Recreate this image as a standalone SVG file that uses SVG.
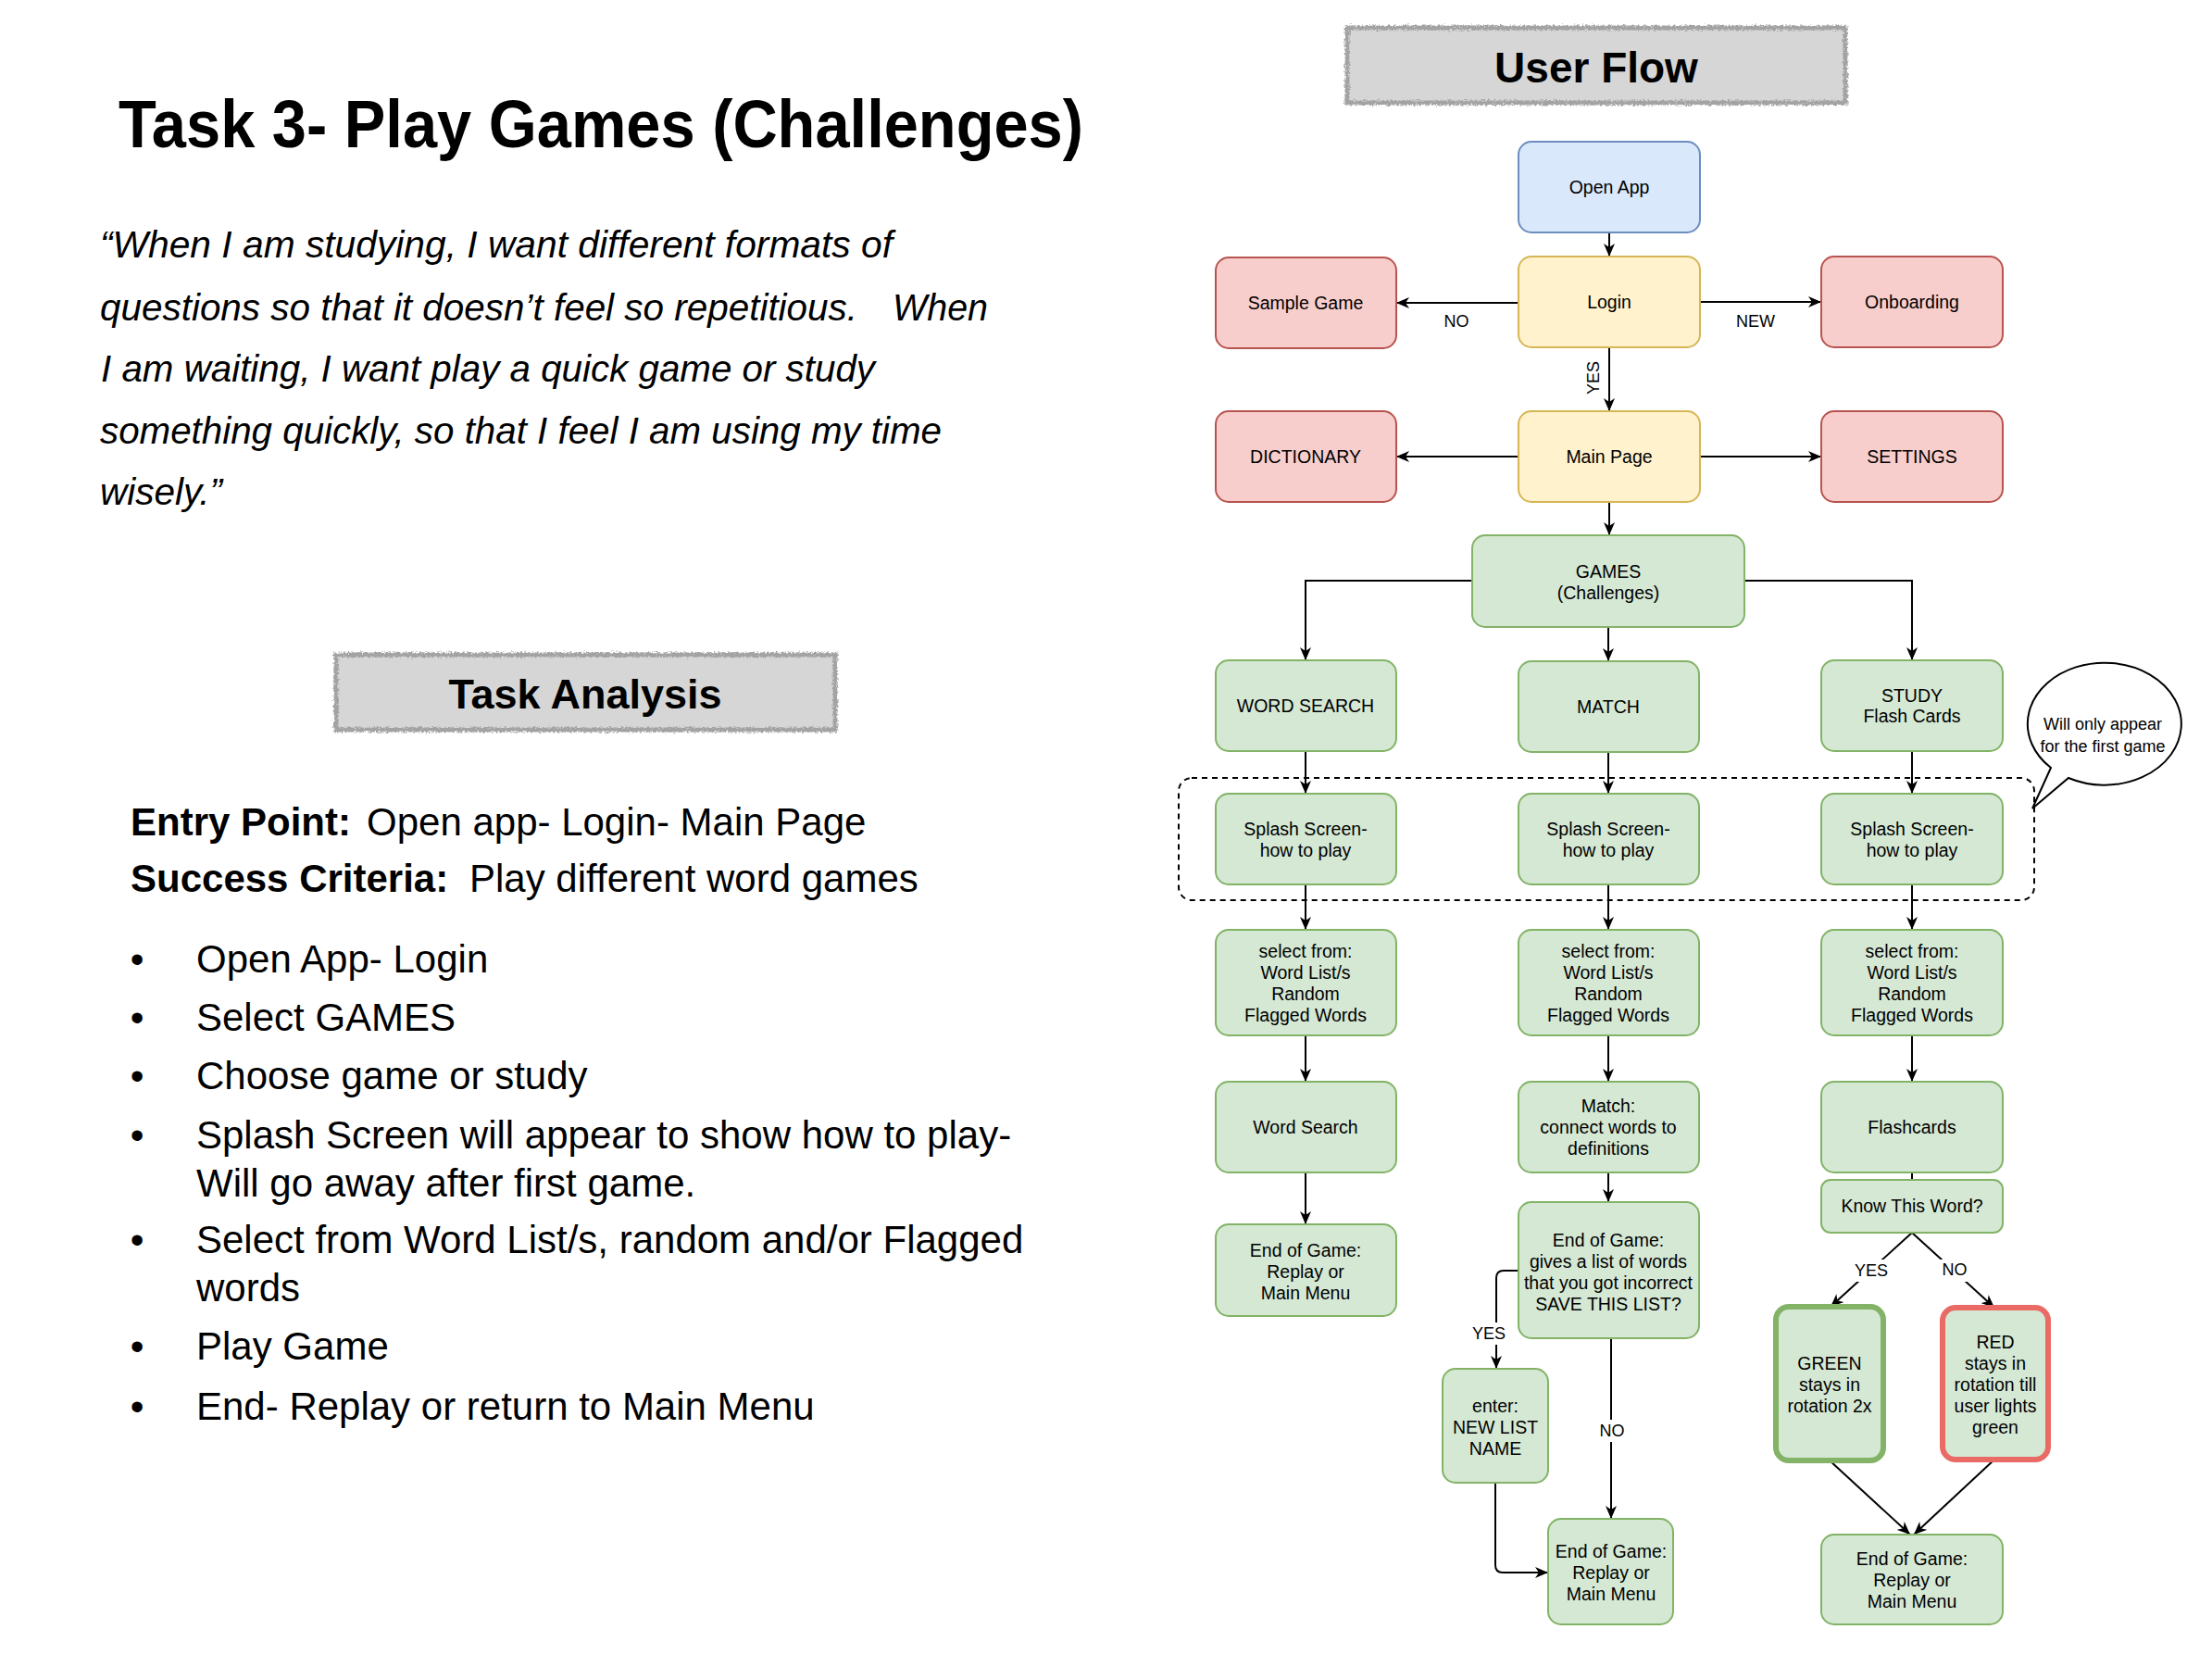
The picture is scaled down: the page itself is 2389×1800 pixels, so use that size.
<svg xmlns="http://www.w3.org/2000/svg" width="2389" height="1800" viewBox="0 0 2389 1800">
<defs>
<style>
text{font-family:"Liberation Sans",Arial,Helvetica,sans-serif;fill:#000}
.nt{font-size:19.5px;text-anchor:middle}
.lbl{font-size:18px;text-anchor:middle}
.node rect{stroke-width:2}
.blue rect{fill:#dae8fc;stroke:#6c8ebf}
.yellow rect{fill:#fff2cc;stroke:#d6b656}
.red rect{fill:#f8cecc;stroke:#b85450}
.green rect{fill:#d5e8d4;stroke:#82b366}
.gthick rect{fill:#d5e8d4;stroke:#82b366;stroke-width:6}
.rthick rect{fill:#d5e8d4;stroke:#ea6b66;stroke-width:6}
.edge{fill:none;stroke:#000;stroke-width:2}
.arr{marker-end:url(#ah)}
.body{font-size:42px}
.quote{font-size:40px;font-style:italic}
.hdr-fill{fill:#d6d6d6}
.hdr-border{fill:none;stroke:#a3a3a3;stroke-width:5}
</style>
<marker id="ah" markerUnits="userSpaceOnUse" markerWidth="14" markerHeight="12" viewBox="0 0 14 12" refX="14" refY="6" orient="auto">
<path d="M0,0 L14,6 L0,12 L4,6 Z" fill="#000"/>
</marker>
<filter id="rough" x="-5%" y="-20%" width="110%" height="140%">
<feTurbulence type="fractalNoise" baseFrequency="0.45" numOctaves="2" seed="3" result="n"/>
<feDisplacementMap in="SourceGraphic" in2="n" scale="6" xChannelSelector="R" yChannelSelector="G"/>
</filter>
</defs>
<rect width="2389" height="1800" fill="#ffffff"/>

<!-- Left side -->
<g id="title">
<text x="128" y="159" font-size="72" font-weight="bold" textLength="1042" lengthAdjust="spacingAndGlyphs">Task 3- Play Games (Challenges)</text>
</g>
<g id="quote" class="quote">
<text class="quote" x="108" y="278" textLength="856" lengthAdjust="spacingAndGlyphs">“When I am studying, I want different formats of</text>
<text class="quote" x="108" y="346" textLength="818" lengthAdjust="spacingAndGlyphs">questions so that it doesn’t feel so repetitious.</text>
<text class="quote" x="964" y="346" textLength="103" lengthAdjust="spacingAndGlyphs">When</text>
<text class="quote" x="109" y="412" textLength="836" lengthAdjust="spacingAndGlyphs">I am waiting, I want play a quick game or study</text>
<text class="quote" x="108" y="479" textLength="909" lengthAdjust="spacingAndGlyphs">something quickly, so that I feel I am using my time</text>
<text class="quote" x="108" y="545" textLength="132" lengthAdjust="spacingAndGlyphs">wisely.”</text>
</g>
<g id="task-analysis-header">
<rect class="hdr-fill" x="363" y="707" width="539" height="81"/>
<rect class="hdr-border" x="363" y="707" width="539" height="81" filter="url(#rough)"/>
<text x="632" y="765" font-size="45" font-weight="bold" text-anchor="middle">Task Analysis</text>
</g>
<g id="task-analysis-body" class="body">
<text class="body" x="141" y="902"><tspan font-weight="bold">Entry Point:</tspan><tspan x="396">Open app- Login- Main Page</tspan></text>
<text class="body" x="141" y="963"><tspan font-weight="bold">Success Criteria:</tspan><tspan x="507">Play different word games</tspan></text>
<text class="body" x="148" y="1050" text-anchor="middle">•</text>
<text class="body" x="212" y="1050">Open App- Login</text>
<text class="body" x="148" y="1113" text-anchor="middle">•</text>
<text class="body" x="212" y="1113">Select GAMES</text>
<text class="body" x="148" y="1176" text-anchor="middle">•</text>
<text class="body" x="212" y="1176">Choose game or study</text>
<text class="body" x="148" y="1240" text-anchor="middle">•</text>
<text class="body" x="212" y="1240">Splash Screen will appear to show how to play-</text>
<text class="body" x="212" y="1292">Will go away after first game.</text>
<text class="body" x="148" y="1353" text-anchor="middle">•</text>
<text class="body" x="212" y="1353">Select from Word List/s, random and/or Flagged</text>
<text class="body" x="212" y="1405">words</text>
<text class="body" x="148" y="1468" text-anchor="middle">•</text>
<text class="body" x="212" y="1468">Play Game</text>
<text class="body" x="148" y="1533" text-anchor="middle">•</text>
<text class="body" x="212" y="1533">End- Replay or return to Main Menu</text>
</g>

<!-- User flow header -->
<g id="user-flow-header">
<rect class="hdr-fill" x="1455" y="30" width="538" height="81"/>
<rect class="hdr-border" x="1455" y="30" width="538" height="81" filter="url(#rough)"/>
<text x="1724" y="89" font-size="46" font-weight="bold" text-anchor="middle">User Flow</text>
</g>

<!-- dashed container and callout -->
<g id="splash-group">
<rect x="1273" y="840" width="924" height="132" rx="14" fill="none" stroke="#000" stroke-width="2" stroke-dasharray="6 5"/>
</g>
<g id="callout">
<path d="M2215,829 A83,66 0 1 1 2234,840 L2195,873 Z" fill="#fff" stroke="#000" stroke-width="2"/>
<text class="lbl" x="2271" y="788">Will only appear</text>
<text class="lbl" x="2271" y="812">for the first game</text>
</g>

<!-- connectors -->
<g id="connectors">
<path class="edge arr" d="M1738,251 L1738,277"/>
<path class="edge arr" d="M1640,327 L1508,327"/>
<path class="edge arr" d="M1836,326 L1967,326"/>
<path class="edge arr" d="M1738,375 L1738,444"/>
<path class="edge arr" d="M1640,493 L1508,493"/>
<path class="edge arr" d="M1836,493 L1967,493"/>
<path class="edge arr" d="M1738,542 L1738,578"/>
<path class="edge arr" d="M1590,627 L1410,627 L1410,713"/>
<path class="edge arr" d="M1737,677 L1737,714"/>
<path class="edge arr" d="M1884,627 L2065,627 L2065,713"/>
<path class="edge arr" d="M1410,811 L1410,857"/>
<path class="edge arr" d="M1737,812 L1737,857"/>
<path class="edge arr" d="M2065,811 L2065,857"/>
<path class="edge arr" d="M1410,955 L1410,1004"/>
<path class="edge arr" d="M1737,955 L1737,1004"/>
<path class="edge arr" d="M2065,955 L2065,1004"/>
<path class="edge arr" d="M1410,1118 L1410,1168"/>
<path class="edge arr" d="M1737,1118 L1737,1168"/>
<path class="edge arr" d="M2065,1118 L2065,1168"/>
<path class="edge arr" d="M1410,1266 L1410,1322"/>
<path class="edge arr" d="M1737,1266 L1737,1298"/>
<path class="edge" d="M2065,1266 L2065,1274"/>
<path class="edge arr" d="M1640,1372 L1624,1372 Q1616,1372 1616,1380 L1616,1478"/>
<path class="edge arr" d="M1740,1445 L1740,1640"/>
<path class="edge arr" d="M1615,1601 L1615,1690 Q1615,1698 1623,1698 L1672,1698"/>
<path class="edge arr" d="M2065,1331 L1977,1411"/>
<path class="edge arr" d="M2065,1331 L2154,1412"/>
<path class="edge arr" d="M1976,1577 L2063,1657"/>
<path class="edge arr" d="M2154,1576 L2067,1657"/>
</g>

<!-- connector labels -->
<g id="edge-labels">
<text class="lbl" x="1573" y="353">NO</text>
<text class="lbl" x="1896" y="353">NEW</text>
<text class="lbl" x="1721" y="414" transform="rotate(-90 1721 408)">YES</text>
<rect x="1592" y="1428" width="48" height="24" fill="#fff"/>
<text class="lbl" x="1608" y="1446">YES</text>
<rect x="1726" y="1533" width="30" height="24" fill="#fff"/>
<text class="lbl" x="1741" y="1551">NO</text>
<rect x="2000" y="1360" width="44" height="24" fill="#fff"/>
<text class="lbl" x="2021" y="1378">YES</text>
<rect x="2095" y="1360" width="32" height="24" fill="#fff"/>
<text class="lbl" x="2111" y="1377">NO</text>
</g>

<!-- nodes -->
<g id="n-open-app" class="node blue"><rect x="1640" y="153" width="196" height="98" rx="14"/><text class="nt" x="1738" y="209">Open App</text></g>
<g id="n-login" class="node yellow"><rect x="1640" y="277" width="196" height="98" rx="14"/><text class="nt" x="1738" y="333">Login</text></g>
<g id="n-sample-game" class="node red"><rect x="1313" y="278" width="195" height="98" rx="14"/><text class="nt" x="1410" y="334">Sample Game</text></g>
<g id="n-onboarding" class="node red"><rect x="1967" y="277" width="196" height="98" rx="14"/><text class="nt" x="2065" y="333">Onboarding</text></g>
<g id="n-dictionary" class="node red"><rect x="1313" y="444" width="195" height="98" rx="14"/><text class="nt" x="1410" y="500">DICTIONARY</text></g>
<g id="n-main-page" class="node yellow"><rect x="1640" y="444" width="196" height="98" rx="14"/><text class="nt" x="1738" y="500">Main Page</text></g>
<g id="n-settings" class="node red"><rect x="1967" y="444" width="196" height="98" rx="14"/><text class="nt" x="2065" y="500">SETTINGS</text></g>
<g id="n-games" class="node green"><rect x="1590" y="578" width="294" height="99" rx="14"/><text class="nt" x="1737" y="624">GAMES</text><text class="nt" x="1737" y="647">(Challenges)</text></g>

<g id="n-word-search" class="node green"><rect x="1313" y="713" width="195" height="98" rx="14"/><text class="nt" x="1410" y="769">WORD SEARCH</text></g>
<g id="n-match" class="node green"><rect x="1640" y="714" width="195" height="98" rx="14"/><text class="nt" x="1737" y="770">MATCH</text></g>
<g id="n-study" class="node green"><rect x="1967" y="713" width="196" height="98" rx="14"/><text class="nt" x="2065" y="758">STUDY</text><text class="nt" x="2065" y="780">Flash Cards</text></g>

<g id="n-splash-1" class="node green"><rect x="1313" y="857" width="195" height="98" rx="14"/><text class="nt" x="1410" y="902">Splash Screen-</text><text class="nt" x="1410" y="925">how to play</text></g>
<g id="n-splash-2" class="node green"><rect x="1640" y="857" width="195" height="98" rx="14"/><text class="nt" x="1737" y="902">Splash Screen-</text><text class="nt" x="1737" y="925">how to play</text></g>
<g id="n-splash-3" class="node green"><rect x="1967" y="857" width="196" height="98" rx="14"/><text class="nt" x="2065" y="902">Splash Screen-</text><text class="nt" x="2065" y="925">how to play</text></g>

<g id="n-select-1" class="node green"><rect x="1313" y="1004" width="195" height="114" rx="14"/><text class="nt" x="1410" y="1034">select from:</text><text class="nt" x="1410" y="1057">Word List/s</text><text class="nt" x="1410" y="1080">Random</text><text class="nt" x="1410" y="1103">Flagged Words</text></g>
<g id="n-select-2" class="node green"><rect x="1640" y="1004" width="195" height="114" rx="14"/><text class="nt" x="1737" y="1034">select from:</text><text class="nt" x="1737" y="1057">Word List/s</text><text class="nt" x="1737" y="1080">Random</text><text class="nt" x="1737" y="1103">Flagged Words</text></g>
<g id="n-select-3" class="node green"><rect x="1967" y="1004" width="196" height="114" rx="14"/><text class="nt" x="2065" y="1034">select from:</text><text class="nt" x="2065" y="1057">Word List/s</text><text class="nt" x="2065" y="1080">Random</text><text class="nt" x="2065" y="1103">Flagged Words</text></g>

<g id="n-word-search-game" class="node green"><rect x="1313" y="1168" width="195" height="98" rx="14"/><text class="nt" x="1410" y="1224">Word Search</text></g>
<g id="n-match-game" class="node green"><rect x="1640" y="1168" width="195" height="98" rx="14"/><text class="nt" x="1737" y="1201">Match:</text><text class="nt" x="1737" y="1224">connect words to</text><text class="nt" x="1737" y="1247">definitions</text></g>
<g id="n-flashcards" class="node green"><rect x="1967" y="1168" width="196" height="98" rx="14"/><text class="nt" x="2065" y="1224">Flashcards</text></g>

<g id="n-end-1" class="node green"><rect x="1313" y="1322" width="195" height="99" rx="14"/><text class="nt" x="1410" y="1357">End of Game:</text><text class="nt" x="1410" y="1380">Replay or</text><text class="nt" x="1410" y="1403">Main Menu</text></g>
<g id="n-end-list" class="node green"><rect x="1640" y="1298" width="195" height="147" rx="14"/><text class="nt" x="1737" y="1346">End of Game:</text><text class="nt" x="1737" y="1369">gives a list of words</text><text class="nt" x="1737" y="1392">that you got incorrect</text><text class="nt" x="1737" y="1415">SAVE THIS LIST?</text></g>
<g id="n-know" class="node green"><rect x="1967" y="1274" width="196" height="57" rx="10"/><text class="nt" x="2065" y="1309">Know This Word?</text></g>
<g id="n-green" class="node gthick"><rect x="1918" y="1411" width="116" height="166" rx="14"/><text class="nt" x="1976" y="1479">GREEN</text><text class="nt" x="1976" y="1502">stays in</text><text class="nt" x="1976" y="1525">rotation 2x</text></g>
<g id="n-red" class="node rthick"><rect x="2098" y="1412" width="114" height="164" rx="14"/><text class="nt" x="2155" y="1456">RED</text><text class="nt" x="2155" y="1479">stays in</text><text class="nt" x="2155" y="1502">rotation till</text><text class="nt" x="2155" y="1525">user lights</text><text class="nt" x="2155" y="1548">green</text></g>
<g id="n-new-list" class="node green"><rect x="1558" y="1478" width="114" height="123" rx="14"/><text class="nt" x="1615" y="1525">enter:</text><text class="nt" x="1615" y="1548">NEW LIST</text><text class="nt" x="1615" y="1571">NAME</text></g>
<g id="n-end-2" class="node green"><rect x="1672" y="1640" width="135" height="114" rx="14"/><text class="nt" x="1740" y="1682">End of Game:</text><text class="nt" x="1740" y="1705">Replay or</text><text class="nt" x="1740" y="1728">Main Menu</text></g>
<g id="n-end-3" class="node green"><rect x="1967" y="1657" width="196" height="97" rx="14"/><text class="nt" x="2065" y="1690">End of Game:</text><text class="nt" x="2065" y="1713">Replay or</text><text class="nt" x="2065" y="1736">Main Menu</text></g>
</svg>
